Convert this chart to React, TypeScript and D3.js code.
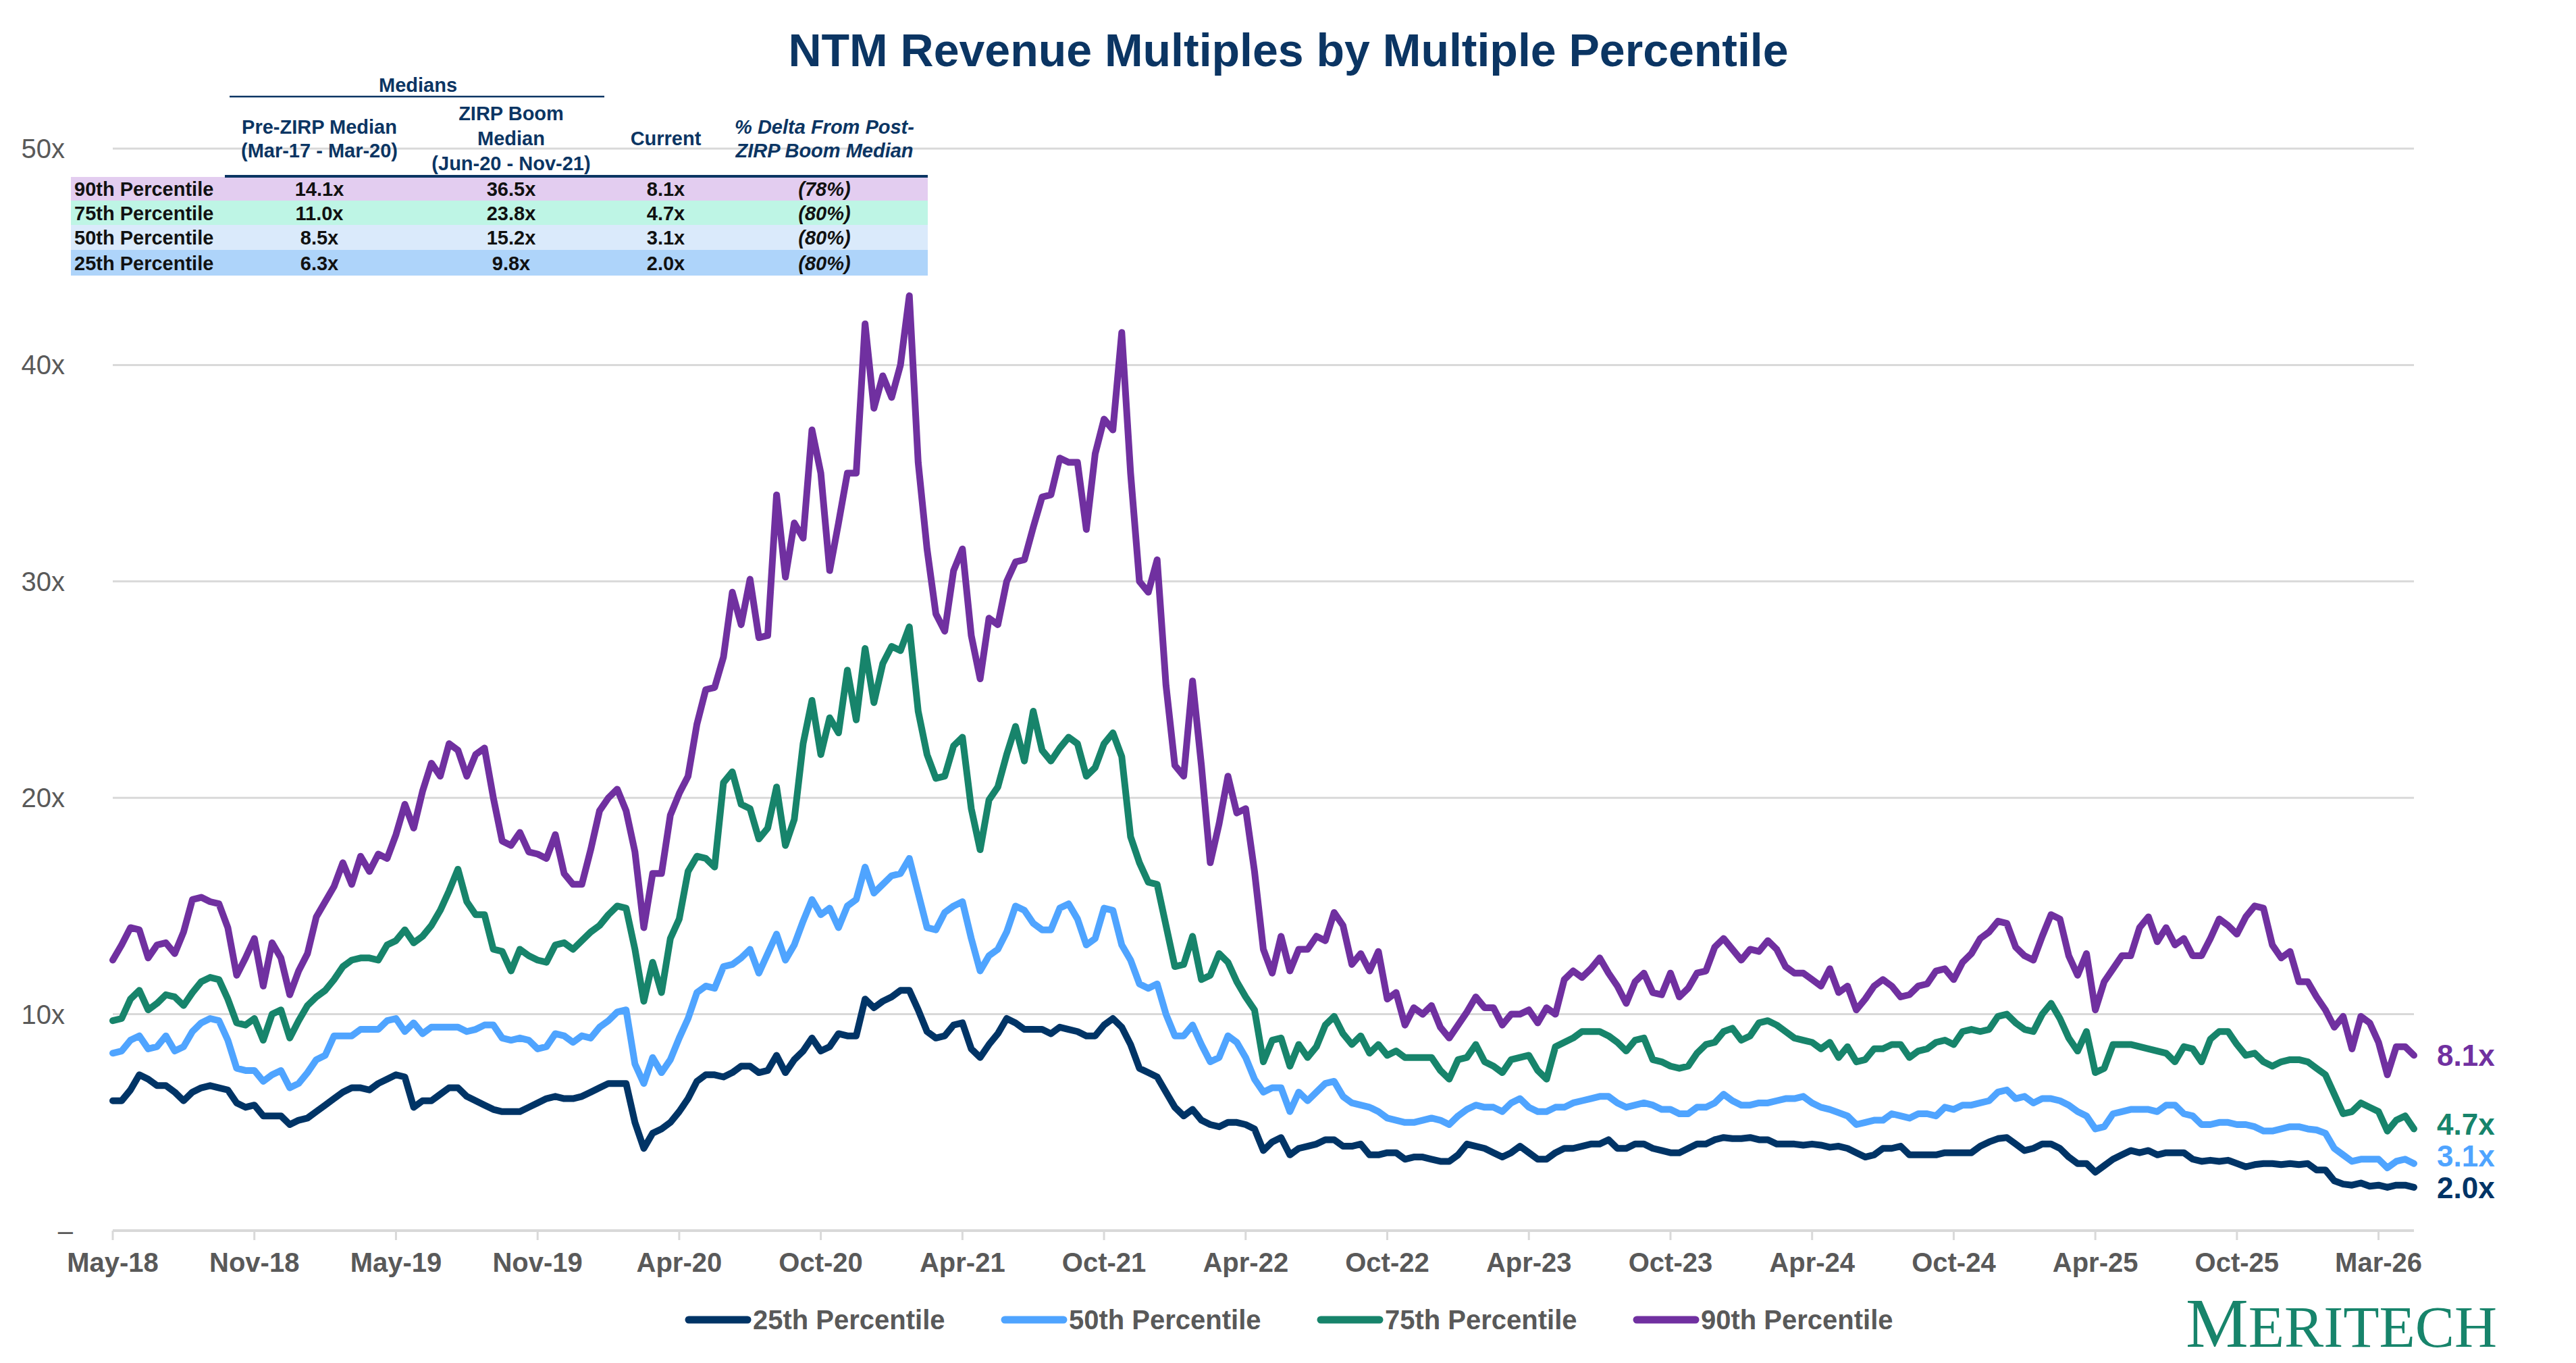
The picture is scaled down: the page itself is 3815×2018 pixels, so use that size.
import React from "react";
import * as d3 from "d3";

const W = 3815;
const H = 2018;

// x axis: one label every 16 points
const tickLabels = [
  "May-18", "Nov-18", "May-19", "Nov-19", "Apr-20", "Oct-20", "Apr-21", "Oct-21",
  "Apr-22", "Oct-22", "Apr-23", "Oct-23", "Apr-24", "Oct-24", "Apr-25", "Oct-25", "Mar-26",
];
const POINTS_PER_TICK = 16;
const yTicks = [0, 10, 20, 30, 40, 50];

const p90 = [
  12.5, 13.2, 14.0, 13.9, 12.6, 13.2, 13.3, 12.8, 13.8, 15.3, 15.4, 15.2, 15.1, 14.0, 11.8, 12.6,
  13.5, 11.3, 13.3, 12.6, 10.9, 12.0, 12.8, 14.5, 15.2, 15.9, 17.0, 16.0, 17.3, 16.6, 17.4, 17.2,
  18.3, 19.7, 18.6, 20.3, 21.6, 21.0, 22.5, 22.2, 21.0, 22.0, 22.3, 20.0, 18.0, 17.8, 18.4, 17.5,
  17.4, 17.2, 18.3, 16.5, 16.0, 16.0, 17.6, 19.4, 20.0, 20.4, 19.4, 17.5, 14.0, 16.5, 16.5, 19.2,
  20.2, 21.0, 23.4, 25.0, 25.1, 26.5, 29.5, 28.0, 30.1, 27.4, 27.5, 34.0, 30.2, 32.7, 32.0, 37.0,
  35.0, 30.5, 32.7, 35.0, 35.0, 41.9, 38.0, 39.5, 38.5, 40.0, 43.2, 35.5, 31.5, 28.5, 27.7, 30.5,
  31.5, 27.5, 25.5, 28.3, 28.0, 30.0, 30.9, 31.0, 32.5, 33.9, 34.0, 35.7, 35.5, 35.5, 32.4, 35.9,
  37.5, 37.0, 41.5, 35.0, 30.0, 29.5, 31.0, 25.2, 21.5, 21.0, 25.4, 21.5, 17.0, 18.8, 21.0, 19.3,
  19.5, 16.6, 13.0, 11.9, 13.6, 12.0, 13.0, 13.0, 13.6, 13.4, 14.7, 14.1, 12.3, 12.8, 12.0, 12.9,
  10.7, 11.0, 9.5, 10.3, 10.0, 10.4, 9.4, 8.9, 9.5, 10.1, 10.8, 10.3, 10.3, 9.5, 10.0, 10.0,
  10.2, 9.6, 10.3, 10.0, 11.6, 12.0, 11.7, 12.1, 12.6, 11.9, 11.3, 10.5, 11.5, 11.9, 11.0, 10.9,
  11.9, 10.8, 11.2, 11.9, 12.0, 13.1, 13.5, 13.0, 12.5, 13.0, 12.9, 13.4, 13.0, 12.2, 11.9, 11.9,
  11.6, 11.3, 12.1, 11.0, 11.3, 10.2, 10.7, 11.3, 11.6, 11.3, 10.8, 10.9, 11.3, 11.4, 12.0, 12.1,
  11.6, 12.4, 12.8, 13.5, 13.8, 14.3, 14.2, 13.1, 12.7, 12.5, 13.6, 14.6, 14.4, 12.7, 11.8, 12.8,
  10.2, 11.5, 12.1, 12.7, 12.7, 14.0, 14.5, 13.35, 14.0, 13.2, 13.5, 12.7, 12.7, 13.5, 14.4, 14.1,
  13.7, 14.5, 15.0, 14.9, 13.2, 12.6, 12.9, 11.5, 11.5, 10.8, 10.2, 9.4, 9.9, 8.4, 9.9, 9.6,
  8.7, 7.2, 8.5, 8.5, 8.1,
];
const p75 = [
  9.7, 9.8, 10.7, 11.1, 10.2, 10.5, 10.9, 10.8, 10.4, 11.0, 11.5, 11.7, 11.6, 10.7, 9.6, 9.5,
  9.8, 8.8, 10.0, 10.2, 8.9, 9.7, 10.4, 10.8, 11.1, 11.6, 12.2, 12.5, 12.6, 12.6, 12.5, 13.2,
  13.4, 13.9, 13.3, 13.6, 14.1, 14.8, 15.7, 16.7, 15.2, 14.6, 14.6, 13.0, 12.9, 12.0, 13.0, 12.7,
  12.5, 12.4, 13.2, 13.3, 13.0, 13.4, 13.8, 14.1, 14.6, 15.0, 14.9, 13.0, 10.6, 12.4, 11.0, 13.5,
  14.4, 16.6, 17.3, 17.2, 16.8, 20.7, 21.2, 19.7, 19.5, 18.1, 18.6, 20.5, 17.8, 19.0, 22.5, 24.5,
  22.0, 23.7, 23.0, 25.9, 23.6, 26.9, 24.4, 26.2, 27.0, 26.8, 27.9, 24.0, 22.0, 20.9, 21.0, 22.4,
  22.8, 19.5, 17.6, 19.9, 20.5, 22.0, 23.3, 21.7, 24.0, 22.2, 21.7, 22.3, 22.8, 22.5, 21.0, 21.4,
  22.5, 23.0, 21.9, 18.2, 17.0, 16.1, 16.0, 14.1, 12.2, 12.3, 13.6, 11.6, 11.8, 12.8, 12.4, 11.5,
  10.8, 10.2, 7.8, 8.8, 8.9, 7.6, 8.6, 8.0, 8.5, 9.5, 9.9, 9.1, 8.6, 9.0, 8.2, 8.6,
  8.1, 8.3, 8.0, 8.0, 8.0, 8.0, 7.4, 7.0, 7.9, 8.0, 8.6, 7.8, 7.6, 7.3, 7.9, 8.0,
  8.1, 7.4, 7.0, 8.5, 8.7, 8.9, 9.2, 9.2, 9.2, 9.0, 8.7, 8.3, 8.8, 8.9, 7.9, 7.8,
  7.6, 7.5, 7.6, 8.2, 8.6, 8.7, 9.2, 9.35, 8.8, 9.0, 9.6, 9.7, 9.5, 9.2, 8.9, 8.8,
  8.7, 8.4, 8.7, 8.0, 8.5, 7.8, 7.9, 8.4, 8.4, 8.6, 8.6, 8.0, 8.3, 8.4, 8.7, 8.8,
  8.6, 9.2, 9.3, 9.2, 9.3, 9.9, 10.0, 9.6, 9.3, 9.2, 10.0, 10.5, 9.8, 8.9, 8.3, 9.2,
  7.3, 7.5, 8.6, 8.6, 8.6, 8.5, 8.4, 8.3, 8.2, 7.8, 8.5, 8.4, 7.8, 8.85, 9.2, 9.2,
  8.6, 8.1, 8.2, 7.8, 7.6, 7.8, 7.9, 7.9, 7.8, 7.5, 7.2, 6.3, 5.4, 5.5, 5.9, 5.7,
  5.5, 4.6, 5.1, 5.3, 4.7,
];
const p50 = [
  8.2, 8.3, 8.8, 9.0, 8.4, 8.5, 9.0, 8.3, 8.5, 9.2, 9.6, 9.8, 9.7, 8.8, 7.5, 7.4,
  7.4, 6.9, 7.2, 7.4, 6.6, 6.8, 7.3, 7.9, 8.1, 9.0, 9.0, 9.0, 9.3, 9.3, 9.3, 9.7,
  9.8, 9.2, 9.6, 9.1, 9.4, 9.4, 9.4, 9.4, 9.2, 9.3, 9.5, 9.5, 8.9, 8.8, 8.9, 8.8,
  8.4, 8.5, 9.1, 9.0, 8.7, 9.0, 8.9, 9.4, 9.7, 10.1, 10.2, 7.7, 6.8, 8.0, 7.3, 7.9,
  8.9, 9.8, 11.0, 11.3, 11.2, 12.2, 12.3, 12.6, 13.0, 11.9, 12.8, 13.7, 12.5, 13.2, 14.3, 15.3,
  14.6, 14.9, 14.0, 15.0, 15.3, 16.8, 15.6, 16.0, 16.4, 16.5, 17.2, 15.6, 14.0, 13.9, 14.7, 15.0,
  15.2, 13.5, 12.0, 12.7, 13.0, 13.8, 15.0, 14.8, 14.2, 13.9, 13.9, 14.9, 15.1, 14.4, 13.2, 13.5,
  14.9, 14.8, 13.2, 12.5, 11.4, 11.2, 11.4, 10.0, 9.0, 9.0, 9.5, 8.6, 7.8, 8.0, 9.0, 8.7,
  8.0, 7.0, 6.4, 6.6, 6.6, 5.5, 6.4, 6.0, 6.4, 6.8, 6.9, 6.2, 5.9, 5.8, 5.7, 5.5,
  5.2, 5.1, 5.0, 5.0, 5.1, 5.2, 5.1, 4.9, 5.3, 5.6, 5.8, 5.7, 5.7, 5.5, 5.9, 6.1,
  5.7, 5.5, 5.5, 5.7, 5.7, 5.9, 6.0, 6.1, 6.2, 6.2, 5.9, 5.7, 5.8, 5.9, 5.8, 5.6,
  5.6, 5.4, 5.4, 5.7, 5.7, 5.9, 6.3, 6.0, 5.8, 5.8, 5.9, 5.9, 6.0, 6.1, 6.1, 6.2,
  5.9, 5.7, 5.6, 5.45, 5.3, 4.9, 5.0, 5.1, 5.1, 5.4, 5.3, 5.2, 5.4, 5.4, 5.3, 5.7,
  5.6, 5.8, 5.8, 5.9, 6.0, 6.4, 6.5, 6.1, 6.2, 5.9, 6.1, 6.1, 6.0, 5.8, 5.5, 5.3,
  4.7, 4.8, 5.4, 5.5, 5.6, 5.6, 5.6, 5.5, 5.8, 5.8, 5.4, 5.3, 4.9, 4.9, 5.0, 5.0,
  4.9, 4.9, 4.8, 4.6, 4.6, 4.7, 4.8, 4.8, 4.7, 4.65, 4.5, 3.8, 3.5, 3.2, 3.3, 3.3,
  3.3, 2.9, 3.2, 3.3, 3.1,
];
const p25 = [
  6.0, 6.0, 6.5, 7.2, 7.0, 6.7, 6.7, 6.4, 6.0, 6.4, 6.6, 6.7, 6.6, 6.5, 5.9, 5.7,
  5.8, 5.3, 5.3, 5.3, 4.9, 5.1, 5.2, 5.5, 5.8, 6.1, 6.4, 6.6, 6.6, 6.5, 6.8, 7.0,
  7.2, 7.1, 5.7, 6.0, 6.0, 6.3, 6.6, 6.6, 6.2, 6.0, 5.8, 5.6, 5.5, 5.5, 5.5, 5.7,
  5.9, 6.1, 6.2, 6.1, 6.1, 6.2, 6.4, 6.6, 6.8, 6.8, 6.8, 5.0, 3.8, 4.5, 4.7, 5.0,
  5.5, 6.1, 6.9, 7.2, 7.2, 7.1, 7.3, 7.6, 7.6, 7.3, 7.4, 8.1, 7.3, 7.9, 8.3, 8.9,
  8.3, 8.5, 9.1, 9.0, 9.0, 10.7, 10.3, 10.6, 10.8, 11.1, 11.1, 10.2, 9.2, 8.9, 9.0, 9.5,
  9.6, 8.4, 8.0, 8.6, 9.1, 9.8, 9.6, 9.3, 9.3, 9.3, 9.1, 9.4, 9.3, 9.2, 9.0, 9.0,
  9.5, 9.8, 9.4, 8.6, 7.5, 7.3, 7.1, 6.4, 5.7, 5.3, 5.6, 5.1, 4.9, 4.8, 5.0, 5.0,
  4.9, 4.7, 3.7, 4.1, 4.3, 3.5, 3.8, 3.9, 4.0, 4.2, 4.2, 3.9, 3.9, 4.0, 3.5, 3.5,
  3.6, 3.6, 3.3, 3.4, 3.4, 3.3, 3.2, 3.2, 3.5, 4.0, 3.9, 3.8, 3.6, 3.4, 3.6, 3.9,
  3.6, 3.3, 3.3, 3.6, 3.8, 3.8, 3.9, 4.0, 4.0, 4.2, 3.8, 3.8, 4.0, 4.0, 3.8, 3.7,
  3.6, 3.6, 3.8, 4.0, 4.0, 4.2, 4.3, 4.25, 4.25, 4.3, 4.2, 4.2, 4.0, 4.0, 4.0, 3.95,
  4.0, 3.95, 3.85, 3.9, 3.8, 3.6, 3.4, 3.5, 3.8, 3.8, 3.9, 3.5, 3.5, 3.5, 3.5, 3.6,
  3.6, 3.6, 3.6, 3.9, 4.1, 4.25, 4.3, 4.0, 3.7, 3.8, 4.0, 4.0, 3.8, 3.4, 3.1, 3.1,
  2.7, 3.0, 3.3, 3.5, 3.7, 3.6, 3.7, 3.5, 3.6, 3.6, 3.6, 3.3, 3.2, 3.25, 3.2, 3.25,
  3.1, 2.95, 3.05, 3.1, 3.1, 3.05, 3.1, 3.05, 3.1, 2.8, 2.8, 2.3, 2.15, 2.1, 2.2, 2.05,
  2.1, 2.0, 2.1, 2.1, 2.0,
];

const seriesNames = ["25th Percentile", "50th Percentile", "75th Percentile", "90th Percentile"];
const seriesValues = [p25, p50, p75, p90];
const seriesColors = ["#003466", "#4FA4FF", "#17846B", "#7030A0"];

// medians table
const rowNames = ["90th Percentile", "75th Percentile", "50th Percentile", "25th Percentile"];
const preZirp = ["14.1x", "11.0x", "8.5x", "6.3x"];
const zirpBoom = ["36.5x", "23.8x", "15.2x", "9.8x"];
const current = ["8.1x", "4.7x", "3.1x", "2.0x"];
const delta = ["(78%)", "(80%)", "(80%)", "(80%)"];
const rowFills = ["#E3CDF0", "#BEF5E5", "#DAEAFB", "#AED4FA"];

const FONT = "'Liberation Sans', Arial, Helvetica, sans-serif";
const NAVY = "#0B3563";
const GRAY = "#595959";
const GRID = "#D9D9D9";

const x = d3.scaleLinear().domain([0, p90.length - 1]).range([167, 3575]);
const y = d3.scaleLinear().domain([0, 50]).range([1822, 220]);
const line = d3
  .line<number>()
  .x((_, i) => x(i))
  .y((d) => y(d));

const Table = () => {
  const cols = [473, 757, 986, 1221];
  const rowTop = [262, 297, 333, 370, 408];
  const hdr = { fontFamily: FONT, fontWeight: 700, fontSize: 29, fill: NAVY, textAnchor: "middle" as const };
  const cell = { fontFamily: FONT, fontWeight: 700, fontSize: 29, fill: "#111111" };
  return (
    <g>
      <text x={619} y={136} {...hdr}>Medians</text>
      <line x1={340} x2={895} y1={143} y2={143} stroke={NAVY} strokeWidth={2.5} />
      <text x={cols[0]} y={198} {...hdr}>Pre-ZIRP Median</text>
      <text x={cols[0]} y={233} {...hdr}>(Mar-17 - Mar-20)</text>
      <text x={cols[1]} y={178} {...hdr}>ZIRP Boom</text>
      <text x={cols[1]} y={215} {...hdr}>Median</text>
      <text x={cols[1]} y={252} {...hdr}>(Jun-20 - Nov-21)</text>
      <text x={cols[2]} y={215} {...hdr}>Current</text>
      <text x={cols[3]} y={198} {...hdr} fontStyle="italic">% Delta From Post-</text>
      <text x={cols[3]} y={233} {...hdr} fontStyle="italic">ZIRP Boom Median</text>
      {rowNames.map((name, i) => {
        const top = rowTop[i];
        const h = rowTop[i + 1] - top;
        const base = top + h / 2 + 10.5;
        return (
          <g key={name}>
            <rect x={105} y={top} width={1269} height={h} fill={rowFills[i]} />
            <text x={110} y={base} {...cell}>{name}</text>
            <text x={cols[0]} y={base} {...cell} textAnchor="middle">{preZirp[i]}</text>
            <text x={cols[1]} y={base} {...cell} textAnchor="middle">{zirpBoom[i]}</text>
            <text x={cols[2]} y={base} {...cell} textAnchor="middle">{current[i]}</text>
            <text x={cols[3]} y={base} {...cell} textAnchor="middle" fontStyle="italic">{delta[i]}</text>
          </g>
        );
      })}
      <line x1={333} x2={1374} y1={261} y2={261} stroke={NAVY} strokeWidth={4} />
    </g>
  );
};

const App = () => {
  // end labels: start at the last value, then push apart from the bottom up
  const ends = seriesValues.map((v) => y(v[v.length - 1]));
  const placed: number[] = [];
  ends.forEach((cy, i) => {
    placed[i] = i === 0 ? cy : Math.min(cy, placed[i - 1] - 47);
  });

  return (
    <svg
      width={W}
      height={H}
      style={{ position: "absolute", left: 0, top: 0, display: "block", background: "#fff" }}
    >
      <text x={1908} y={98} textAnchor="middle" fontFamily={FONT} fontWeight={700} fontSize={68} fill={NAVY}>
        NTM Revenue Multiples by Multiple Percentile
      </text>

      {yTicks.map((t) => (
        <g key={t}>
          {t > 0 && <line x1={167} x2={3575} y1={y(t)} y2={y(t)} stroke={GRID} strokeWidth={3} />}
          <text
            x={t === 0 ? 108 : 96}
            y={y(t) + 14}
            textAnchor="end"
            fontFamily={FONT}
            fontSize={40}
            fill={GRAY}
          >
            {t === 0 ? "–" : `${t}x`}
          </text>
        </g>
      ))}

      <line x1={167} x2={3575} y1={y(0)} y2={y(0)} stroke={GRID} strokeWidth={4} />
      {tickLabels.map((lab, k) => {
        const tx = x(k * POINTS_PER_TICK);
        return (
          <g key={lab}>
            <line x1={tx} x2={tx} y1={y(0)} y2={y(0) + 14} stroke={GRID} strokeWidth={3} />
            <text x={tx} y={1883} textAnchor="middle" fontFamily={FONT} fontWeight={700} fontSize={40} fill={GRAY}>
              {lab}
            </text>
          </g>
        );
      })}

      {seriesValues.map((vals, i) => (
        <path
          key={seriesNames[i]}
          d={line(vals) as string}
          fill="none"
          stroke={seriesColors[i]}
          strokeWidth={10}
          strokeLinejoin="round"
          strokeLinecap="round"
        />
      ))}

      {seriesValues.map((vals, i) => (
        <text
          key={seriesNames[i]}
          x={3609}
          y={placed[i] + 16}
          fontFamily={FONT}
          fontWeight={700}
          fontSize={44}
          fill={seriesColors[i]}
        >
          {`${vals[vals.length - 1].toFixed(1)}x`}
        </text>
      ))}

      <Table />

      {seriesNames.map((name, i) => {
        const lx = 1015 + i * 468;
        return (
          <g key={name}>
            <line x1={lx + 5} x2={lx + 92} y1={1954} y2={1954} stroke={seriesColors[i]} strokeWidth={11} strokeLinecap="round" />
            <text x={lx + 100} y={1968} fontFamily={FONT} fontWeight={700} fontSize={40} fill={GRAY}>
              {name}
            </text>
          </g>
        );
      })}

      <text
        x={3237}
        y={1994}
        fontFamily="'Liberation Serif', 'DejaVu Serif', serif"
        fill="#17846B"
        textLength={461}
        lengthAdjust="spacingAndGlyphs"
      >
        <tspan fontSize={104}>M</tspan>
        <tspan fontSize={87}>ERITECH</tspan>
      </text>
    </svg>
  );
};

export default App;
